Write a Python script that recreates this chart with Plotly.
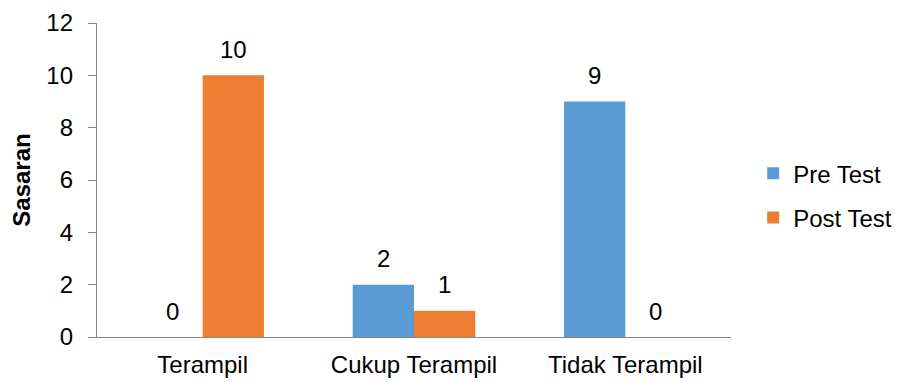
import plotly.graph_objects as go

categories = ["Terampil", "Cukup Terampil", "Tidak Terampil"]
pre_test = [0, 2, 9]
post_test = [10, 1, 0]
y_ticks = [0, 2, 4, 6, 8, 10, 12]

FONT = "Liberation Sans, Arial, sans-serif"
BLUE = "#5B9BD5"
ORANGE = "#ED7D31"
AXIS = "#868686"
SIZE = 24

fig = go.Figure()
fig.add_trace(go.Bar(name="Pre Test", x=categories, y=pre_test,
                     marker=dict(color=BLUE, line=dict(width=0)), legendgroup="a"))
fig.add_trace(go.Bar(name="Post Test", x=categories, y=post_test,
                     marker=dict(color=ORANGE, line=dict(width=0)), legendgroup="b"))

# value labels above each bar
half = 30.5
for series, shift in ((pre_test, -half), (post_test, half)):
    for cat, val in zip(categories, series):
        fig.add_annotation(x=cat, y=val, text=str(val), showarrow=False,
                           xshift=shift, yshift=26, yanchor="middle",
                           font=dict(family=FONT, size=SIZE, color="#000000"))

fig.update_layout(
    width=909, height=382,
    margin=dict(l=97, r=178, t=23, b=45),
    paper_bgcolor="white", plot_bgcolor="white",
    barmode="group", bargap=0.42, bargroupgap=0,
    font=dict(family=FONT, size=SIZE, color="#000000"),
    legend=dict(x=1.035, xanchor="left", y=0.45, yanchor="middle",
                font=dict(family=FONT, size=SIZE, color="#000000"),
                tracegroupgap=10, bgcolor="rgba(0,0,0,0)"),
    showlegend=True,
)
fig.update_xaxes(showline=True, linecolor=AXIS, linewidth=1.3, ticks="",
                 showgrid=False, tickfont=dict(size=SIZE), ticklabelstandoff=6,
                 automargin=False)
fig.update_yaxes(range=[0, 12], tickvals=y_ticks, showline=True, linecolor=AXIS,
                 linewidth=1.3, ticks="outside", ticklen=8, tickcolor=AXIS,
                 showgrid=False, zeroline=False, tickfont=dict(size=SIZE),
                 ticklabelstandoff=10, automargin=False,
                 title=dict(text="<b>Sasaran</b>", standoff=8,
                            font=dict(family=FONT, size=SIZE)))

fig.write_html("out.html")
